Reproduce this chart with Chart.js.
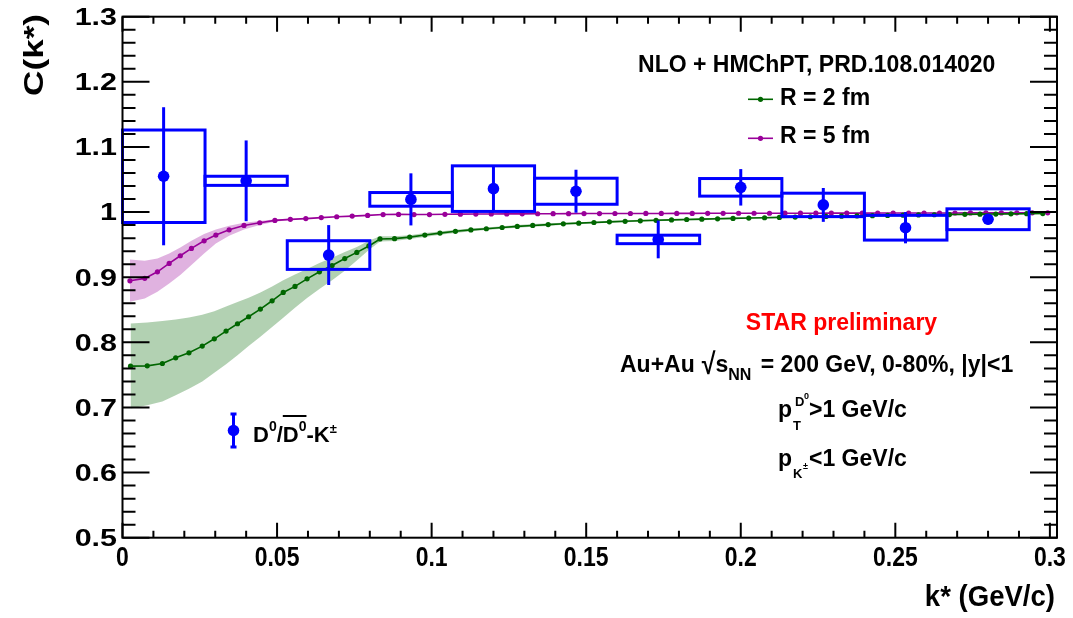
<!DOCTYPE html>
<html><head><meta charset="utf-8">
<script src="https://cdn.jsdelivr.net/npm/chart.js@4.4.1/dist/chart.umd.min.js"></script>
<style>html,body{margin:0;padding:0;background:#fff;}#wrap{width:1073px;height:618px;position:relative;}</style>
</head><body><div id="wrap"><canvas id="c"></canvas></div>
<script>
// ---------- data: D0-K correlation ----------
const binLow  = [0.0000,0.0267,0.0533,0.0800,0.1067,0.1333,0.1600,0.1867,0.2133,0.2400,0.2667];
const binHigh = [0.0267,0.0533,0.0800,0.1067,0.1333,0.1600,0.1867,0.2133,0.2400,0.2667,0.2933];
const kStar   = [0.0133,0.0400,0.0667,0.0933,0.1200,0.1467,0.1733,0.2000,0.2267,0.2533,0.2800];
const corr    = [1.055,1.048,0.934,1.0195,1.036,1.032,0.958,1.038,1.011,0.976,0.989];
const statErr = [0.106,0.062,0.046,0.040,0.035,0.033,0.029,0.028,0.026,0.024,0.008];
const sysErr  = [0.071,0.007,0.022,0.0105,0.035,0.020,0.0065,0.0135,0.018,0.019,0.016];

// ---------- theory R = 2 fm ----------
const r2X = [0.0026,0.0080,0.0129,0.0172,0.0215,0.0258,0.0297,0.0335,0.0372,0.0408,0.0446,0.0484,0.0520,0.0558,0.0597,0.0637,0.0678,0.0719,0.0758,0.0797,
  0.0833,0.0880,0.0929,0.0978,0.1027,0.1077,0.1127,0.1177,0.1228,0.1277,0.1327,0.1377,0.1426,0.1476,0.1525,0.1575,0.1626,0.1675,0.1726,0.1776,0.1825,0.1874,0.1925,0.1975,0.2026,0.2077,0.2125,0.2176,0.2225,0.2276,0.2326,0.2376,0.2426,0.2475,0.2525,0.2575,0.2626,0.2675,0.2725,0.2774,0.2825,0.2874,0.2925,0.2977];
const r2Y = [0.7634,0.7639,0.7675,0.7762,0.7839,0.7942,0.8054,0.8172,0.8285,0.8393,0.8510,0.8638,0.8766,0.8859,0.8975,0.9083,0.9180,0.9286,0.9381,0.9480,
  0.9587,0.9592,0.9616,0.9647,0.9677,0.9705,0.9726,0.9744,0.9763,0.9780,0.9795,0.9808,0.9820,0.9830,0.9840,0.9850,0.9858,0.9866,0.9874,0.9880,0.9886,0.9891,0.9897,0.9903,0.9908,0.9913,0.9918,0.9923,0.9928,0.9933,0.9937,0.9941,0.9945,0.9949,0.9953,0.9956,0.9959,0.9962,0.9965,0.9968,0.9970,0.9973,0.9975,0.9977];
const r2Hi = [0.8290,0.8305,0.8326,0.8351,0.8382,0.8423,0.8479,0.8551,0.8618,0.8684,0.8766,0.8858,0.8955,0.9042,0.9124,0.9217,0.9299,0.9386,0.9463,0.9560,
  0.9627,0.9627,0.9646,0.9677,0.9702,0.9730,0.9746,0.9764,0.9783,0.9800,0.9815,0.9828,0.9835,0.9845,0.9855,0.9865,0.9873,0.9881,0.9889,0.9895,0.9901,0.9906,0.9912,0.9918,0.9918,0.9923,0.9928,0.9933,0.9938,0.9943,0.9947,0.9951,0.9955,0.9959,0.9963,0.9966,0.9969,0.9972,0.9975,0.9978,0.9980,0.9983,0.9985,0.9987];
const r2Lo = [0.6984,0.7035,0.7092,0.7189,0.7286,0.7399,0.7532,0.7665,0.7803,0.7942,0.8085,0.8234,0.8377,0.8531,0.8679,0.8817,0.8955,0.9099,0.9258,0.9416,
  0.9547,0.9557,0.9586,0.9617,0.9652,0.9680,0.9706,0.9724,0.9743,0.9760,0.9775,0.9788,0.9805,0.9815,0.9825,0.9835,0.9843,0.9851,0.9859,0.9865,0.9871,0.9876,0.9882,0.9888,0.9898,0.9903,0.9908,0.9913,0.9918,0.9923,0.9927,0.9931,0.9935,0.9939,0.9943,0.9946,0.9949,0.9952,0.9955,0.9958,0.9960,0.9963,0.9965,0.9967];

// ---------- theory R = 5 fm ----------
const r5X = [0.0024,0.0072,0.0113,0.0151,0.0187,0.0223,0.0264,0.0302,0.0345,0.0393,0.0444,
  0.0493,0.0543,0.0593,0.0643,0.0693,0.0743,0.0793,0.0843,0.0893,0.0943,0.0993,0.1043,0.1093,0.1143,0.1193,0.1243,0.1293,0.1343,0.1393,0.1443,0.1493,0.1543,0.1593,0.1643,0.1693,0.1743,0.1793,0.1843,0.1893,0.1943,0.1993,0.2043,0.2093,0.2143,0.2193,0.2243,0.2293,0.2343,0.2393,0.2443,0.2493,0.2543,0.2593,0.2643,0.2693,0.2743,0.2793,0.2843,0.2893,0.2943,0.2993];
const r5Y = [0.8945,0.8982,0.9083,0.9212,0.9329,0.9442,0.9559,0.9647,0.9728,0.9795,0.9836,
  0.9872,0.9888,0.9900,0.9915,0.9928,0.9938,0.9949,0.9962,0.9964,0.9962,0.9962,0.9966,0.9968,0.9970,0.9971,0.9972,0.9973,0.9974,0.9975,0.9976,0.9977,0.9977,0.9978,0.9978,0.9979,0.9979,0.9980,0.9980,0.9981,0.9981,0.9982,0.9982,0.9982,0.9983,0.9983,0.9983,0.9984,0.9984,0.9984,0.9985,0.9985,0.9985,0.9986,0.9986,0.9986,0.9987,0.9987,0.9987,0.9988,0.9988,0.9989];
const r5BandX  = [0.0024,0.0072,0.0113,0.0151,0.0187,0.0223,0.0264,0.0302,0.0345,0.0393,0.0444,0.0493,0.0543];
const r5BandHi = [0.9273,0.9253,0.9288,0.9365,0.9457,0.9560,0.9662,0.9734,0.9790,0.9836,0.9862,0.9890,0.9896];
const r5BandLo = [0.8623,0.8674,0.8776,0.8904,0.9032,0.9186,0.9365,0.9519,0.9636,0.9734,0.9800,0.9850,0.9880];

// ---------- axes ----------
const xTickVals = [0,0.05,0.1,0.15,0.2,0.25,0.3];
const xTickLabels = ['0','0.05','0.1','0.15','0.2','0.25','0.3'];
const yTickVals = [0.5,0.6,0.7,0.8,0.9,1.0,1.1,1.2,1.3];
const yTickLabels = ['0.5','0.6','0.7','0.8','0.9','1','1.1','1.2','1.3'];
const xRange = [0, 0.3023];
const yRange = [0.5, 1.3];

const pts = (xs, ys) => xs.map((x, i) => ({x, y: ys[i]}));
const GREEN = '#006600', PURPLE = '#990099', BLUE = '#0000ff';
const FONT = '"Liberation Sans", Arial, Helvetica, sans-serif';

function txt(ctx, s, x, y, size, opt = {}) {
  ctx.save();
  ctx.font = 'bold ' + size + 'px ' + FONT;
  ctx.fillStyle = opt.color || '#000';
  ctx.textBaseline = 'alphabetic';
  ctx.translate(x, y);
  if (opt.rot) ctx.rotate(opt.rot);
  ctx.scale(opt.sx || 1, opt.sy || 1);
  ctx.textAlign = opt.align || 'left';
  ctx.fillText(s, 0, 0);
  const w = ctx.measureText(s).width * (opt.sx || 1);
  ctx.restore();
  return w;
}

const rootPlugin = {
  id: 'rootStyle',
  beforeDatasetDraw(chart, args) {
    if (args.index !== 0) return;
    const ctx = chart.ctx, xs = chart.scales.x, ys = chart.scales.y;
    ctx.save();
    ctx.strokeStyle = BLUE; ctx.lineWidth = 3;
    for (let i = 0; i < kStar.length; i++) {
      const x0 = xs.getPixelForValue(binLow[i]), x1 = xs.getPixelForValue(binHigh[i]);
      const yt = ys.getPixelForValue(corr[i] + sysErr[i]), yb = ys.getPixelForValue(corr[i] - sysErr[i]);
      ctx.strokeRect(x0, yt, x1 - x0, yb - yt);
      const xc = xs.getPixelForValue(kStar[i]);
      ctx.beginPath();
      ctx.moveTo(xc, ys.getPixelForValue(corr[i] + statErr[i]));
      ctx.lineTo(xc, ys.getPixelForValue(corr[i] - statErr[i]));
      ctx.stroke();
    }
    ctx.restore();
  },
  afterDraw(chart) {
    const ctx = chart.ctx, xs = chart.scales.x, ys = chart.scales.y, a = chart.chartArea;
    ctx.save();
    ctx.strokeStyle = '#000'; ctx.lineWidth = 2;
    ctx.strokeRect(a.left, a.top, a.right - a.left, a.bottom - a.top);
    ctx.beginPath();
    for (let k = 0; k <= 30; k++) {
      const v = k / 100, px = xs.getPixelForValue(v);
      const len = (k % 5 === 0) ? 15 : 7;
      ctx.moveTo(px, a.bottom); ctx.lineTo(px, a.bottom - len);
      ctx.moveTo(px, a.top); ctx.lineTo(px, a.top + len);
    }
    for (let k = 0; k <= 40; k++) {
      const v = 0.5 + k * 0.02, py = ys.getPixelForValue(v);
      const len = (k % 5 === 0) ? 27 : 13;
      ctx.moveTo(a.left, py); ctx.lineTo(a.left + len, py);
      ctx.moveTo(a.right, py); ctx.lineTo(a.right - len, py);
    }
    ctx.stroke();
    ctx.restore();

    // tick labels
    xTickVals.forEach((v, i) => txt(ctx, xTickLabels[i], xs.getPixelForValue(v), 566, 28, {align: 'center', sx: 0.82}));
    yTickVals.forEach((v, i) => txt(ctx, yTickLabels[i], 117, ys.getPixelForValue(v) + 8.4, 24, {align: 'right', sx: 1.27}));

    // axis titles
    txt(ctx, 'k* (GeV/c)', 1055, 606, 29, {align: 'right', sx: 0.95});
    txt(ctx, 'C(k*)', 43, 14, 27, {align: 'right', rot: -Math.PI / 2, sx: 1.3});

    // theory legend
    txt(ctx, 'NLO + HMChPT, PRD.108.014020', 816.7, 71.7, 23, {align: 'center'});
    [[GREEN, 99.3, 'R = 2 fm', 105], [PURPLE, 138.3, 'R = 5 fm', 143]].forEach(([c, ly, s, by]) => {
      ctx.save(); ctx.strokeStyle = c; ctx.fillStyle = c; ctx.lineWidth = 1.6;
      ctx.beginPath(); ctx.moveTo(748, ly); ctx.lineTo(773, ly); ctx.stroke();
      ctx.beginPath(); ctx.arc(760.5, ly, 2.6, 0, Math.PI * 2); ctx.fill(); ctx.restore();
      txt(ctx, s, 780, by, 23);
    });

    // STAR preliminary
    txt(ctx, 'STAR preliminary', 841.5, 330, 23, {align: 'center', color: '#ff0000'});

    // Au+Au sqrt(sNN) line
    let x = 620;
    x += txt(ctx, 'Au+Au', x, 372, 23);
    x += 7;
    x += txt(ctx, '\u221A', x, 374, 25, {sy: 1.2});
    x += txt(ctx, 's', x, 372, 23);
    x += txt(ctx, 'NN', x, 380, 16);
    x += 3;
    txt(ctx, ' = 200 GeV, 0-80%, |y|<1', x, 372, 23);

    // pT line
    txt(ctx, 'p', 778, 417, 23);
    txt(ctx, 'T', 793, 430, 13);
    txt(ctx, 'D', 795, 406, 13);
    txt(ctx, '0', 804, 399, 9);
    txt(ctx, '>1 GeV/c', 809, 417, 23);

    // pK line
    txt(ctx, 'p', 778, 466, 23);
    txt(ctx, 'K', 793, 478, 13);
    txt(ctx, '\u00B1', 803, 469, 9);
    txt(ctx, '<1 GeV/c', 809, 466, 23);

    // data legend
    ctx.save();
    ctx.strokeStyle = BLUE; ctx.fillStyle = BLUE; ctx.lineWidth = 3;
    ctx.beginPath();
    ctx.moveTo(233.5, 414); ctx.lineTo(233.5, 447);
    ctx.moveTo(230.5, 414); ctx.lineTo(236.5, 414);
    ctx.moveTo(230.5, 447); ctx.lineTo(236.5, 447);
    ctx.stroke();
    ctx.beginPath(); ctx.arc(233.5, 430.5, 5.8, 0, Math.PI * 2); ctx.fill();
    ctx.restore();
    let lx = 253;
    lx += txt(ctx, 'D', lx, 441.7, 22);
    lx += txt(ctx, '0', lx, 431, 14);
    lx += txt(ctx, '/', lx, 441.7, 22);
    const ov0 = lx;
    lx += txt(ctx, 'D', lx, 441.7, 22);
    lx += txt(ctx, '0', lx, 431, 14);
    const ov1 = lx;
    lx += txt(ctx, '-', lx, 441.7, 22);
    lx += txt(ctx, 'K', lx, 441.7, 22);
    txt(ctx, '\u00B1', lx, 433, 13);
    ctx.save(); ctx.strokeStyle = '#000'; ctx.lineWidth = 2;
    ctx.beginPath(); ctx.moveTo(ov0, 416); ctx.lineTo(ov1, 416); ctx.stroke(); ctx.restore();
  }
};

new Chart(document.getElementById('c'), {
  type: 'line',
  data: {
    datasets: [
      { type: 'scatter', label: 'data', data: pts(kStar, corr), showLine: false,
        pointRadius: 5.8, pointBackgroundColor: BLUE, pointBorderWidth: 0, pointBorderColor: BLUE },
      { label: 'R = 2 fm', data: pts(r2X, r2Y), borderColor: GREEN, borderWidth: 1.6, fill: false,
        pointRadius: 2.6, pointBackgroundColor: GREEN, pointBorderWidth: 0, tension: 0 },
      { label: 'R = 5 fm', data: pts(r5X, r5Y), borderColor: PURPLE, borderWidth: 1.6, fill: false,
        pointRadius: 2.6, pointBackgroundColor: PURPLE, pointBorderWidth: 0, tension: 0 },
      { label: 'R5 hi', data: pts(r5BandX, r5BandHi), borderWidth: 0, pointRadius: 0, fill: '+1',
        backgroundColor: 'rgba(153,0,153,0.3)', borderColor: 'rgba(0,0,0,0)' },
      { label: 'R5 lo', data: pts(r5BandX, r5BandLo), borderWidth: 0, pointRadius: 0, fill: false, borderColor: 'rgba(0,0,0,0)' },
      { label: 'R2 hi', data: pts(r2X, r2Hi), borderWidth: 0, pointRadius: 0, fill: '+1',
        backgroundColor: 'rgba(0,102,0,0.3)', borderColor: 'rgba(0,0,0,0)' },
      { label: 'R2 lo', data: pts(r2X, r2Lo), borderWidth: 0, pointRadius: 0, fill: false, borderColor: 'rgba(0,0,0,0)' }
    ]
  },
  options: {
    responsive: true, maintainAspectRatio: false, animation: false, events: [],
    layout: { padding: { left: 122.5, top: 16.7, right: 16, bottom: 80.3 } },
    scales: {
      x: { type: 'linear', min: xRange[0], max: xRange[1], display: false },
      y: { type: 'linear', min: yRange[0], max: yRange[1], display: false }
    },
    plugins: { legend: { display: false }, tooltip: { enabled: false }, filler: { propagate: false } }
  },
  plugins: [rootPlugin]
});
</script></body></html>
